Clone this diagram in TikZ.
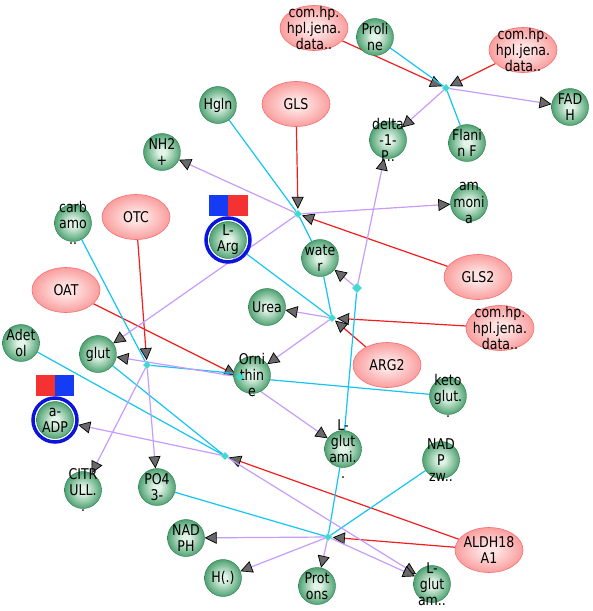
\documentclass[tikz,border=0pt]{standalone}
\usepackage{fontspec}
\newfontfamily\lblfont{DejaVu Sans}[FakeStretch=0.85]
\usetikzlibrary{arrows.meta,shapes.geometric,backgrounds}

\definecolor{metIn}{RGB}{225,244,231}
\definecolor{metMid}{RGB}{72,158,108}
\definecolor{metOut}{RGB}{36,122,74}
\definecolor{enzIn}{RGB}{255,226,226}
\definecolor{enzMid}{RGB}{248,140,140}
\definecolor{enzOut}{RGB}{236,72,72}
\definecolor{enzLine}{RGB}{244,112,112}
\definecolor{subCyan}{RGB}{20,196,242}
\definecolor{prodPurple}{RGB}{198,156,250}
\definecolor{catRed}{RGB}{240,30,30}
\definecolor{rxnCyan}{RGB}{64,218,210}
\definecolor{tipGray}{RGB}{105,105,105}
\definecolor{ringBlue}{RGB}{10,20,220}
\definecolor{flagBlue}{RGB}{20,60,245}
\definecolor{flagRed}{RGB}{245,50,50}

\pgfdeclareradialshading{metshade}{\pgfpoint{0bp}{0bp}}{color(0bp)=(metIn); color(5bp)=(metIn); color(26bp)=(metMid); color(50bp)=(metOut)}
\pgfdeclareradialshading{enzshade}{\pgfpoint{0bp}{0bp}}{color(0bp)=(enzIn); color(6bp)=(enzIn); color(30bp)=(enzMid); color(50bp)=(enzOut)}

% metabolite / enzyme with its text on top
\newcommand{\metnode}[3]{\node[metab] (#1) at (#2) {}; \node[lbl] (#1-t) at (#1) {#3};}
\newcommand{\enznode}[3]{\node[enzyme] (#1) at (#2) {}; \node[lbl] (#1-t) at (#1) {#3};}

\begin{document}
\begin{tikzpicture}[x=1pt, y=-1pt,
  metab/.style={circle, minimum size=37pt, inner sep=0pt, shading=metshade, draw=metOut, line width=0.4pt},
  enzyme/.style={ellipse, minimum width=68pt, minimum height=45pt, inner sep=0pt, shading=enzshade, draw=enzLine, line width=0.6pt},
  lbl/.style={align=center, inner sep=0pt, font=\lblfont\fontsize{14.8}{16.2}\selectfont},
  rxn/.style={diamond, inner sep=0pt, minimum size=8pt, fill=rxnCyan},
  ring/.style={circle, draw=ringBlue, line width=3.5pt, minimum size=44pt, inner sep=0pt},
  tri/.tip={Triangle[length=12pt, width=12pt, fill=tipGray, color=black, line width=0.7pt]},
  sub/.style={draw=subCyan, line width=1.2pt},
  prod/.style={draw=prodPurple, line width=1.2pt, -tri},
  cat/.style={draw=catRed, line width=1.2pt, shorten >=1pt, -tri}]
  \useasboundingbox (0,0) rectangle (593,611);

  % Enzymes
  \enznode{comA}{314,28}{com.hp.\\hpl.jena.\\data..}
  \enznode{comB}{523,50}{com.hp.\\hpl.jena.\\data..}
  \enznode{gls}{296,104}{GLS}
  \enznode{otc}{136,217}{OTC}
  \enznode{oat}{66,290}{OAT}
  \enznode{gls2}{478,277}{GLS2}
  \enznode{comC}{500,328}{com.hp.\\hpl.jena.\\data..}
  \enznode{arg2}{387,365}{ARG2}
  \enznode{aldh}{489,550}{ALDH18\\A1}

  % Metabolites
  \metnode{pro}{375,37}{Proli\\ne}
  \metnode{fadh}{570,107}{FAD\\H}
  \metnode{flanin}{467,143}{Flani\\n F}
  \metnode{delta}{388,140}{delta\\-1-\\P..}
  \metnode{hgln}{218,105}{Hgln}
  \metnode{nh2}{162,152}{NH2\\+}
  \metnode{ammonia}{469,203}{am\\moni\\a}
  \metnode{carb}{73,223}{carb\\amo\\..}
  \metnode{larg}{228,240}{L-\\Arg}
  \metnode{water}{320,258}{wate\\r}
  \metnode{urea}{267,307}{Urea}
  \metnode{adetol}{21,343}{Adet\\ol}
  \metnode{glut}{98,354}{glut}
  \metnode{orn}{252,375}{Orni\\thin\\e}
  \metnode{keto}{448,396}{keto\\glut.\\.}
  \metnode{aadp}{55,420}{a-\\ADP}
  \metnode{lglutami}{343,449}{L-\\glut\\ami.\\.}
  \metnode{nadpzw}{441,460}{NAD\\P\\zw..}
  \metnode{citr}{83,490}{CITR\\ULL.\\.}
  \metnode{po4}{157,487}{PO4\\3-}
  \metnode{nadph}{186,538}{NAD\\PH}
  \metnode{hdot}{223,578}{H(.)}
  \metnode{protons}{317,586}{Prot\\ons}
  \metnode{lglutam}{432,584}{L-\\glut\\am..}

  % Rings and flags
  \node[ring] (larg-r) at (larg) {};
  \node[ring] (aadp-r) at (aadp) {};
  \fill[flagBlue] (209,195) rectangle (228,216);
  \fill[flagRed] (228,195) rectangle (248,216);
  \fill[flagRed] (36,375) rectangle (55,396);
  \fill[flagBlue] (55,375) rectangle (74,396);

  % Reactions
  \node[rxn] (r1) at (446,88) {};
  \node[rxn] (r2) at (298,214) {};
  \node[rxn] (r3) at (332,318) {};
  \node[rxn, minimum size=10pt] (r5) at (357,288) {};
  \node[rxn] (r4) at (147,365) {};
  \node[rxn] (r7) at (240,377) {};
  \node[rxn] (r8) at (225,456) {};
  \node[rxn] (r6) at (328,537) {};

  \begin{scope}[on background layer]
    % Catalysis
    \foreach \a/\b in {comA/r1, comB/r1, gls/r2, gls2/r2, comC/r3, arg2/r3, otc/r4, oat/r7, aldh/r6, aldh/r8}
      \draw[cat] (\a) -- (\b);
    % Substrates
    \foreach \a/\b in {pro/r1, flanin/r1, hgln/r2, water/r2, larg-r/r3, water/r3, lglutami/r5, carb/r4, orn/r4, keto/r7, adetol/r8, glut/r8, lglutami/r6, nadpzw/r6, po4/r6}
      \draw[sub] (\a) -- (\b);
    % Products
    \foreach \a/\b in {r1/fadh, r1/delta, r2/nh2, r2/ammonia, r2/glut, r3/urea, r3/orn, r5/water, r5/delta, r4/citr, r4/po4, r7/glut, r7/lglutami, r8/aadp-r, r8/lglutam, r6/nadph, r6/hdot, r6/protons, r6/lglutam}
      \draw[prod] (\a) -- (\b);
  \end{scope}
\end{tikzpicture}
\end{document}
